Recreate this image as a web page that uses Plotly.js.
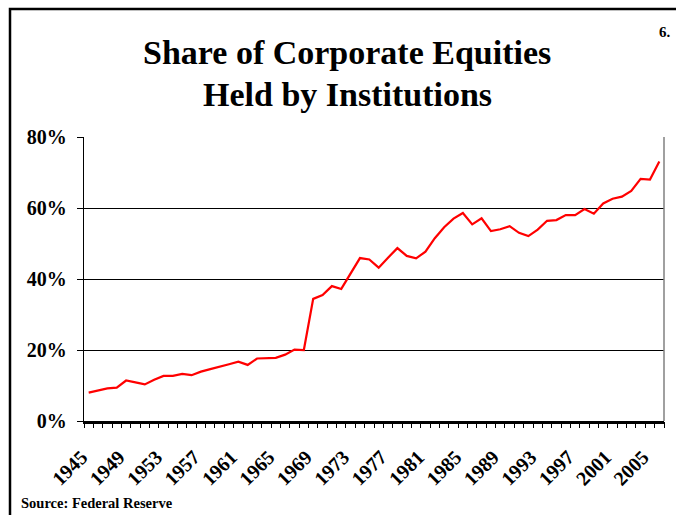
<!DOCTYPE html>
<html>
<head>
<meta charset="utf-8">
<script src="https://cdn.plot.ly/plotly-3.0.1.min.js"></script>
<style>
html,body{margin:0;padding:0;background:#fff;}
#chart{width:676px;height:515px;}
</style>
</head>
<body>
<div id="chart"></div>
<script>
var years = [];
for (var yr = 1945; yr <= 2006; yr++) years.push(yr);
var sharePct = [
  8.0, 8.55, 9.2, 9.4, 11.4, 10.9, 10.3, 11.6, 12.7, 12.7,
  13.25, 12.9, 13.9, 14.6, 15.2, 16.0, 16.7, 15.8, 17.6, 17.6,
  17.8, 18.7, 20.1, 20.0, 34.4, 35.5, 38.0, 37.2, 41.4, 45.9,
  45.5, 43.2, 46.0, 48.7, 46.5, 45.8, 47.7, 51.5, 54.6, 57.0,
  58.6, 55.4, 57.1, 53.5, 54.0, 54.9, 53.0, 52.1, 53.9, 56.4,
  56.6, 58.0, 58.0, 59.7, 58.4, 61.3, 62.6, 63.2, 64.8, 68.2,
  68.0, 73.1
];
var yTicks = [0, 20, 40, 60, 80];
var xTickYears = [1945,1949,1953,1957,1961,1965,1969,1973,1977,1981,1985,1989,1993,1997,2001,2005];
var titleLines = ["Share of Corporate Equities", "Held by Institutions"];
var sourceText = "Source: Federal Reserve";
var pageNo = "6.";

var serif = "Liberation Serif, Times New Roman, serif";
var L = 84, R = 12, T = 137, B = 94, W = 676, H = 515;
var pw = W - L - R, ph = H - T - B;
function px2x(px){ return (px - L) / pw; }
function py2y(py){ return (H - B - py) / ph; }

var trace = {
  x: years, y: sharePct, type: 'scatter', mode: 'lines',
  line: {color: '#FF0000', width: 2.2},
  hoverinfo: 'skip'
};
var tickTrace = {
  x: [years[0]], y: [null], xaxis: 'x2', type: 'scatter', mode: 'lines',
  hoverinfo: 'skip', showlegend: false
};

var titleFont = {family: serif, size: 34, weight: 'bold', color: '#000'};

var layout = {
  width: W, height: H,
  margin: {l: L, r: R, t: T, b: B, pad: 0},
  paper_bgcolor: '#ffffff', plot_bgcolor: '#ffffff',
  showlegend: false,
  font: {family: serif, color: '#000'},
  xaxis: {
    type: 'linear',
    range: [1944.5, 2006.5],
    tickmode: 'array', tickvals: xTickYears,
    ticktext: xTickYears.map(String),
    ticks: '', tickangle: -45,
    ticklabelstandoff: 14,
    ticklabelshift: -7,
    tickfont: {family: serif, size: 20, weight: 'bold', color: '#000'},
    showgrid: false, zeroline: false,
    showline: true, linecolor: '#000', linewidth: 2.5,
    fixedrange: true
  },
  xaxis2: {
    type: 'linear', overlaying: 'x', anchor: 'y', side: 'bottom',
    range: [1944.5, 2006.5],
    tickmode: 'linear', tick0: 1944.5, dtick: 1,
    ticks: 'outside', ticklen: 6, tickcolor: '#000', tickwidth: 1,
    showticklabels: false, showgrid: false, zeroline: false, showline: false,
    fixedrange: true
  },
  yaxis: {
    range: [0, 80], tickmode: 'array', tickvals: yTicks,
    ticktext: yTicks.map(function(v){ return v + '%'; }),
    ticks: 'outside', ticklen: 6, tickcolor: '#000', tickwidth: 1,
    ticklabelstandoff: 6,
    tickfont: {family: serif, size: 20, weight: 'bold', color: '#000'},
    showgrid: true, gridcolor: '#000', gridwidth: 1,
    zeroline: false,
    showline: true, linecolor: '#000', linewidth: 1.2,
    fixedrange: true
  },
  shapes: [
    {type: 'line', xref: 'paper', yref: 'paper', x0: 1, x1: 1, y0: 0, y1: 1,
     line: {color: '#808080', width: 1.5}},
    {type: 'rect', xref: 'paper', yref: 'paper',
     x0: px2x(10), x1: px2x(720), y0: py2y(9), y1: py2y(560),
     line: {color: '#000', width: 2.5}, fillcolor: 'rgba(0,0,0,0)', layer: 'below'}
  ],
  annotations: [
    {text: titleLines[0], xref: 'paper', yref: 'paper', x: px2x(347), y: py2y(53),
     xanchor: 'center', yanchor: 'middle', showarrow: false, font: titleFont},
    {text: titleLines[1], xref: 'paper', yref: 'paper', x: px2x(347), y: py2y(94),
     xanchor: 'center', yanchor: 'middle', showarrow: false, font: titleFont},
    {text: sourceText, xref: 'paper', yref: 'paper', x: px2x(19), y: py2y(503),
     xanchor: 'left', yanchor: 'middle', showarrow: false,
     font: {family: serif, size: 14.5, weight: 'bold', color: '#000'}},
    {text: pageNo, xref: 'paper', yref: 'paper', x: px2x(673), y: py2y(32),
     xanchor: 'right', yanchor: 'middle', showarrow: false,
     font: {family: serif, size: 15, weight: 'bold', color: '#000'}}
  ]
};

Plotly.newPlot('chart', [trace, tickTrace], layout, {staticPlot: true, displayModeBar: false});
</script>
</body>
</html>
